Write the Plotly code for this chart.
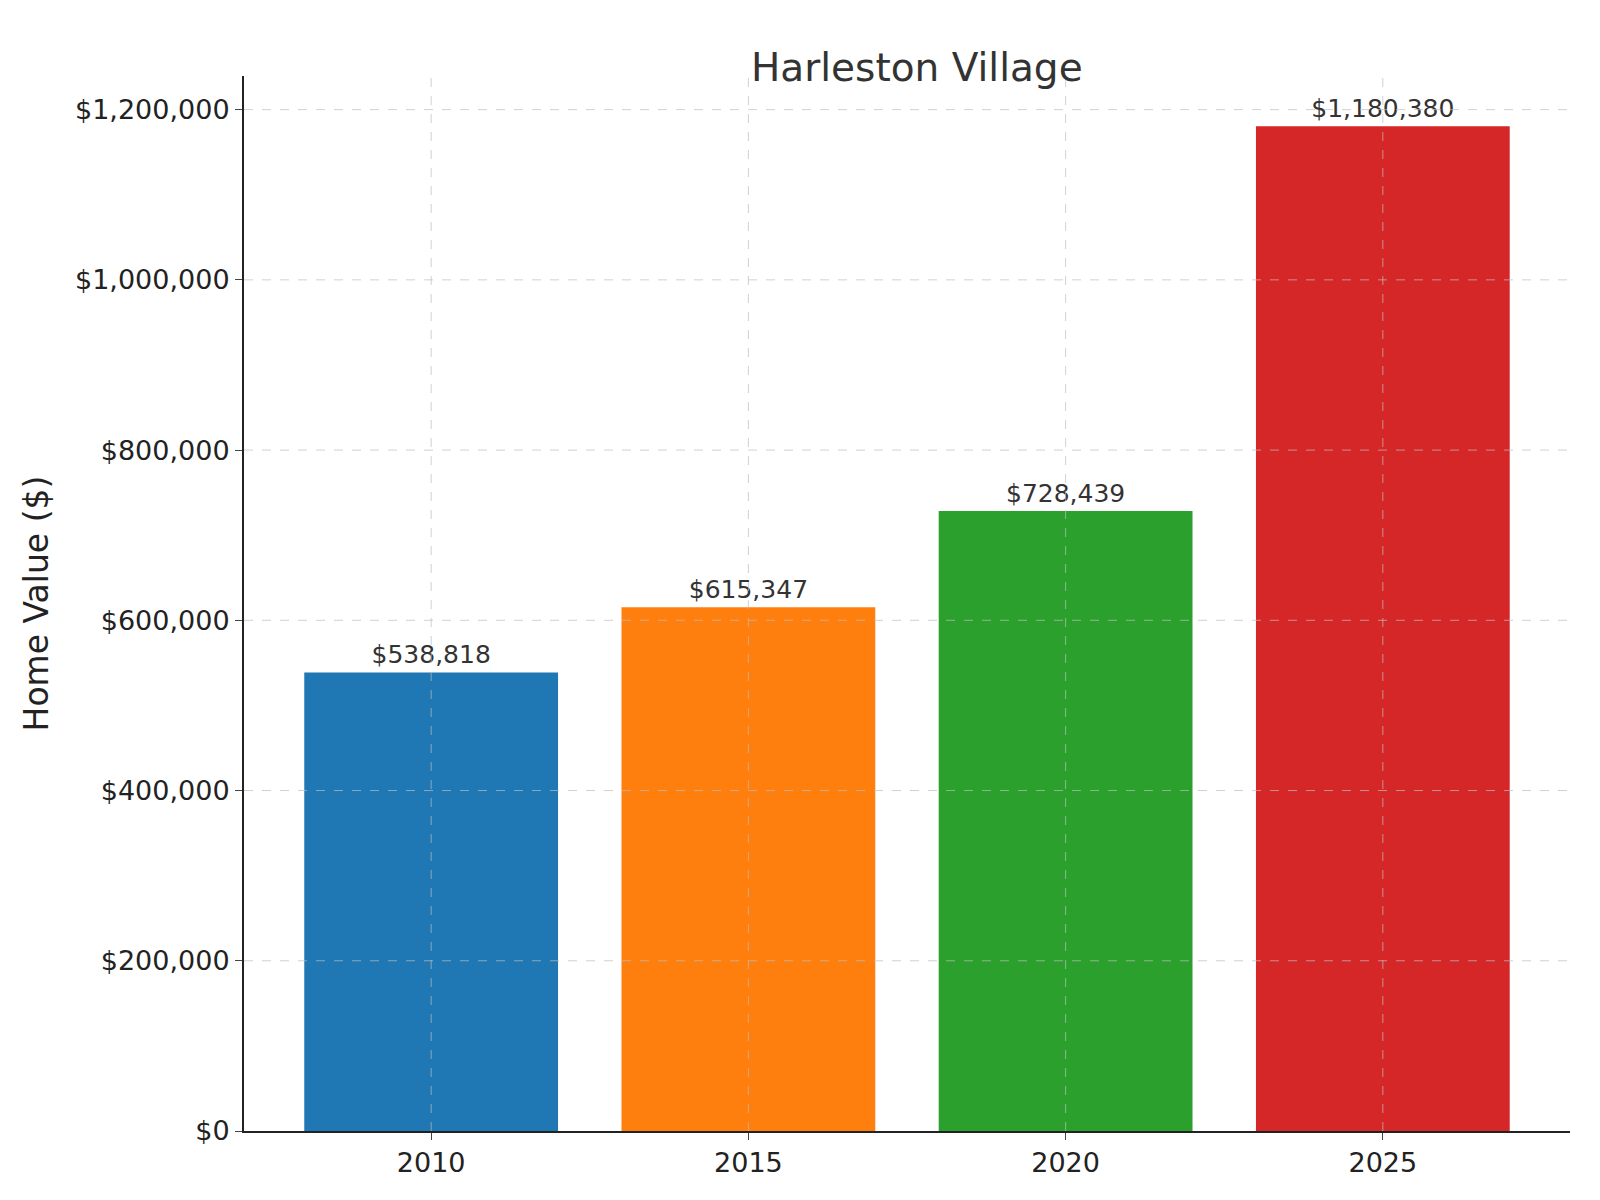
import plotly.graph_objects as go

years = ["2010", "2015", "2020", "2025"]
values = [538818, 615347, 728439, 1180380]
colors = ["#1f77b4", "#ff7f0e", "#2ca02c", "#d62728"]
y_ticks = [0, 200000, 400000, 600000, 800000, 1000000, 1200000]

pos = list(range(len(years)))

fig = go.Figure(go.Bar(
    x=pos, y=values, width=0.8,
    marker=dict(color=colors, line=dict(width=0)),
    text=[f"${v:,}" for v in values], textposition="outside",
    textfont=dict(size=25, color="#333333"), cliponaxis=False,
))

# dashed grid drawn over the bars, as in the reference
grid = dict(color="rgba(190,190,190,0.7)", width=1, dash="dash")
for v in y_ticks[1:]:
    fig.add_shape(type="line", xref="paper", x0=0, x1=1, yref="y", y0=v, y1=v,
                  line=grid, layer="above")
for p in pos:
    fig.add_shape(type="line", xref="x", x0=p, x1=p, yref="paper", y0=0, y1=1,
                  line=grid, layer="above")

fig.update_layout(
    width=1600, height=1200,
    paper_bgcolor="white", plot_bgcolor="white",
    font=dict(family="DejaVu Sans", color="#222222"),
    title=dict(text="Harleston Village", x=0.568, xanchor="center", y=0.962,
               font=dict(size=39, color="#333333")),
    margin=dict(l=236, r=38, t=68, b=77),
    showlegend=False,
)
fig.update_xaxes(
    range=[-0.59, 3.59], tickvals=pos, ticktext=years,
    tickfont=dict(size=27), ticks="outside", ticklen=7,
    showline=True, linecolor="#222222", linewidth=2,
    showgrid=False, zeroline=False,
)
fig.update_yaxes(
    range=[0, 1239500], tickvals=y_ticks,
    ticktext=[f"${v:,}" for v in y_ticks],
    tickfont=dict(size=27), ticks="outside", ticklen=7,
    title=dict(text="Home Value ($)", font=dict(size=33), standoff=16),
    showline=True, linecolor="#222222", linewidth=2,
    showgrid=False, zeroline=False,
)

fig.write_html("out.html")
